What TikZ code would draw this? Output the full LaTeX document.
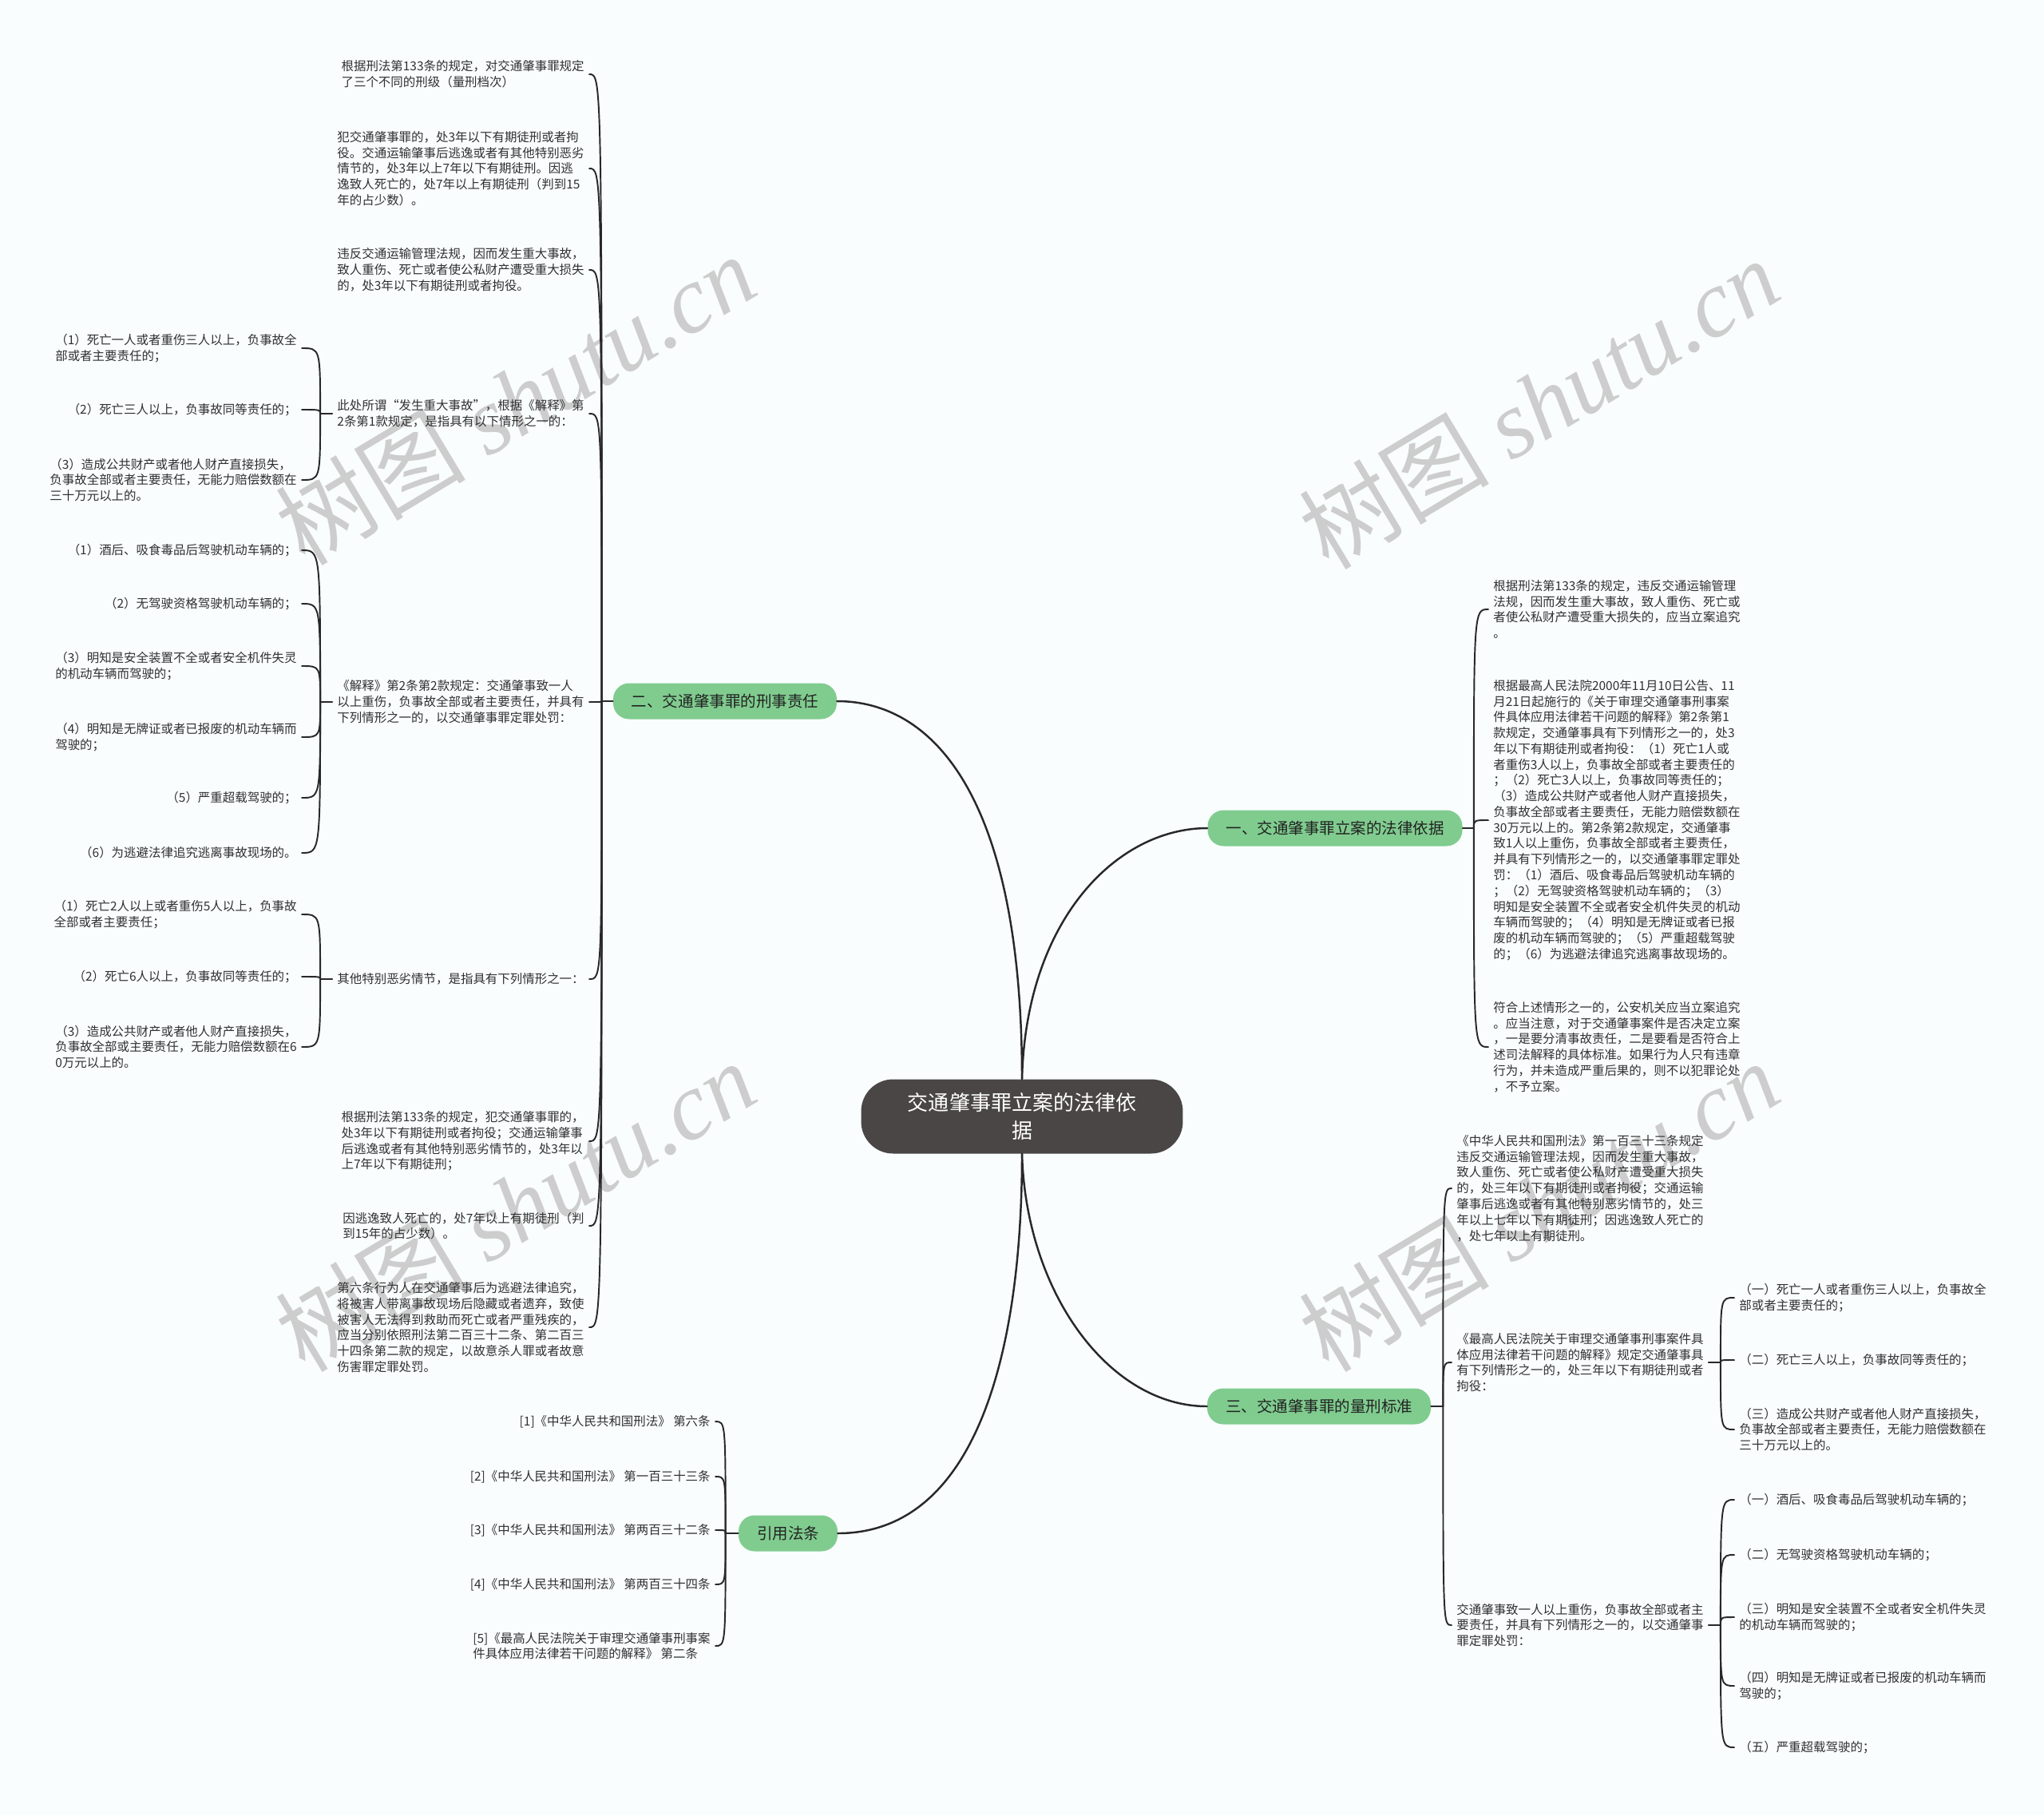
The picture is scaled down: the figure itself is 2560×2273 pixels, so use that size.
\documentclass[tikz,border=0pt]{standalone}
\usepackage{fontspec}
\setmainfont{Noto Sans CJK SC}
\newfontfamily\wmfont{Liberation Serif}
\definecolor{bgcol}{RGB}{249,253,254}
\definecolor{mapgreen}{RGB}{128,204,143}
\definecolor{rootgray}{RGB}{74,70,70}
\definecolor{linegray}{RGB}{40,40,40}
\definecolor{leafgray}{RGB}{48,48,48}
\definecolor{textdark}{RGB}{34,34,34}
\definecolor{wmgray}{RGB}{205,205,205}
\tikzset{
  leaf/.style = {font = \fontsize{8.8}{11.25}\selectfont, text = leafgray, align = left, inner xsep = 0.12cm, inner ysep = 0.04cm},
  leafL/.style = {leaf, anchor = east},
  leafR/.style = {leaf, anchor = west},
  branch/.style = {fill = mapgreen, rounded corners = 0.4cm, minimum height = 0.9cm, inner xsep = 0.46cm, font = \fontsize{11.1}{13}\selectfont, text = textdark},
  root/.style = {fill = rootgray, rounded corners = 0.8cm, minimum width = 8.06cm, minimum height = 1.86cm, align = center, text = white, font = \fontsize{14.8}{19.4}\selectfont},
  trunk/.style = {draw = linegray, line width = 1.4pt, line cap = round},
  twig/.style = {draw = linegray, line width = 1.1pt, line cap = round},
  wm/.style = {rotate = 31, text = wmgray, font = \fontsize{68}{76}\selectfont}
}
\begin{document}
\begin{tikzpicture}[x = 0.02cm, y = -0.02cm]
\useasboundingbox (0,0) rectangle (2560,2273);
\fill [bgcol] (0,0) rectangle (2560,2273);
\foreach \wx/\wy/\wn in {645/500/wm1, 1927/505/wm2, 645/1510/wm3, 1927/1510/wm4}
  \node [wm] (\wn) at (\wx,\wy) {树图 {\wmfont\itshape shutu.cn}};

\node [root] (root) at (1280,1398) {交通肇事罪立案的法律依\\据};
\node [branch] (b1) at (1672,1037) {一、交通肇事罪立案的法律依据};
\node [branch] (b2) at (908,878) {二、交通肇事罪的刑事责任};
\node [branch] (b3) at (1652,1761) {三、交通肇事罪的量刑标准};
\node [branch] (b4) at (987,1920) {引用法条};

\node [leafL] (c1) at (738,93) {根据刑法第133条的规定，对交通肇事罪规定\\了三个不同的刑级（量刑档次）};
\node [leafL] (c2) at (738,211) {犯交通肇事罪的，处3年以下有期徒刑或者拘\\役。交通运输肇事后逃逸或者有其他特别恶劣\\情节的，处3年以上7年以下有期徒刑。因逃\\逸致人死亡的，处7年以上有期徒刑（判到15\\年的占少数）。};
\node [leafL] (c3) at (738,338) {违反交通运输管理法规，因而发生重大事故，\\致人重伤、死亡或者使公私财产遭受重大损失\\的，处3年以下有期徒刑或者拘役。};
\node [leafL] (c4) at (738,518) {此处所谓“发生重大事故”，根据《解释》第\\2条第1款规定，是指具有以下情形之一的：};
\node [leafL] (c5) at (738,879) {《解释》第2条第2款规定：交通肇事致一人\\以上重伤，负事故全部或者主要责任，并具有\\下列情形之一的，以交通肇事罪定罪处罚：};
\node [leafL] (c6) at (738,1226) {其他特别恶劣情节，是指具有下列情形之一：};
\node [leafL] (c7) at (738,1429) {根据刑法第133条的规定，犯交通肇事罪的，\\处3年以下有期徒刑或者拘役；交通运输肇事\\后逃逸或者有其他特别恶劣情节的，处3年以\\上7年以下有期徒刑；};
\node [leafL] (c8) at (738,1535) {因逃逸致人死亡的，处7年以上有期徒刑（判\\到15年的占少数）。};
\node [leafL] (c9) at (738,1662) {第六条行为人在交通肇事后为逃避法律追究，\\将被害人带离事故现场后隐藏或者遗弃，致使\\被害人无法得到救助而死亡或者严重残疾的，\\应当分别依照刑法第二百三十二条、第二百三\\十四条第二款的规定，以故意杀人罪或者故意\\伤害罪定罪处罚。};

\node [leafL] (d1) at (378,436) {（1）死亡一人或者重伤三人以上，负事故全\\部或者主要责任的；};
\node [leafL] (d2) at (378,513) {（2）死亡三人以上，负事故同等责任的；};
\node [leafL] (d3) at (378,601) {（3）造成公共财产或者他人财产直接损失，\\负事故全部或者主要责任，无能力赔偿数额在\\三十万元以上的。};

\node [leafL] (e1) at (378,689) {（1）酒后、吸食毒品后驾驶机动车辆的；};
\node [leafL] (e2) at (378,756) {（2）无驾驶资格驾驶机动车辆的；};
\node [leafL] (e3) at (378,834) {（3）明知是安全装置不全或者安全机件失灵\\的机动车辆而驾驶的；};
\node [leafL] (e4) at (378,923) {（4）明知是无牌证或者已报废的机动车辆而\\驾驶的；};
\node [leafL] (e5) at (378,999) {（5）严重超载驾驶的；};
\node [leafL] (e6) at (378,1068) {（6）为逃避法律追究逃离事故现场的。};

\node [leafL] (f1) at (378,1145) {（1）死亡2人以上或者重伤5人以上，负事故\\全部或者主要责任；};
\node [leafL] (f2) at (378,1223) {（2）死亡6人以上，负事故同等责任的；};
\node [leafL] (f3) at (378,1311) {（3）造成公共财产或者他人财产直接损失，\\负事故全部或主要责任，无能力赔偿数额在6\\0万元以上的。};

\node [leafL] (r1) at (896,1780) {[1]《中华人民共和国刑法》 第六条};
\node [leafL] (r2) at (896,1849) {[2]《中华人民共和国刑法》 第一百三十三条};
\node [leafL] (r3) at (896,1916) {[3]《中华人民共和国刑法》 第两百三十二条};
\node [leafL] (r4) at (896,1984) {[4]《中华人民共和国刑法》 第两百三十四条};
\node [leafL] (r5) at (896,2061) {[5]《最高人民法院关于审理交通肇事刑事案\\件具体应用法律若干问题的解释》 第二条};

\node [leafR] (g1) at (1864,763) {根据刑法第133条的规定，违反交通运输管理\\法规，因而发生重大事故，致人重伤、死亡或\\者使公私财产遭受重大损失的，应当立案追究\\。};
\node [leafR] (g2) at (1864,1027) {根据最高人民法院2000年11月10日公告、11\\月21日起施行的《关于审理交通肇事刑事案\\件具体应用法律若干问题的解释》第2条第1\\款规定，交通肇事具有下列情形之一的，处3\\年以下有期徒刑或者拘役：（1）死亡1人或\\者重伤3人以上，负事故全部或者主要责任的\\；（2）死亡3人以上，负事故同等责任的；\\（3）造成公共财产或者他人财产直接损失，\\负事故全部或者主要责任，无能力赔偿数额在\\30万元以上的。第2条第2款规定，交通肇事\\致1人以上重伤，负事故全部或者主要责任，\\并具有下列情形之一的，以交通肇事罪定罪处\\罚：（1）酒后、吸食毒品后驾驶机动车辆的\\；（2）无驾驶资格驾驶机动车辆的；（3）\\明知是安全装置不全或者安全机件失灵的机动\\车辆而驾驶的；（4）明知是无牌证或者已报\\废的机动车辆而驾驶的；（5）严重超载驾驶\\的；（6）为逃避法律追究逃离事故现场的。};
\node [leafR] (g3) at (1864,1311) {符合上述情形之一的，公安机关应当立案追究\\。应当注意，对于交通肇事案件是否决定立案\\，一是要分清事故责任，二是要看是否符合上\\述司法解释的具体标准。如果行为人只有违章\\行为，并未造成严重后果的，则不以犯罪论处\\，不予立案。};

\node [leafR] (h1) at (1818,1488) {《中华人民共和国刑法》第一百三十三条规定\\违反交通运输管理法规，因而发生重大事故，\\致人重伤、死亡或者使公私财产遭受重大损失\\的，处三年以下有期徒刑或者拘役；交通运输\\肇事后逃逸或者有其他特别恶劣情节的，处三\\年以上七年以下有期徒刑；因逃逸致人死亡的\\，处七年以上有期徒刑。};
\node [leafR] (h2) at (1818,1706) {《最高人民法院关于审理交通肇事刑事案件具\\体应用法律若干问题的解释》规定交通肇事具\\有下列情形之一的，处三年以下有期徒刑或者\\拘役：};
\node [leafR] (h3) at (1818,2035) {交通肇事致一人以上重伤，负事故全部或者主\\要责任，并具有下列情形之一的，以交通肇事\\罪定罪处罚：};

\node [leafR] (i1) at (2172,1625) {（一）死亡一人或者重伤三人以上，负事故全\\部或者主要责任的；};
\node [leafR] (i2) at (2172,1703) {（二）死亡三人以上，负事故同等责任的；};
\node [leafR] (i3) at (2172,1790) {（三）造成公共财产或者他人财产直接损失，\\负事故全部或者主要责任，无能力赔偿数额在\\三十万元以上的。};

\node [leafR] (j1) at (2172,1878) {（一）酒后、吸食毒品后驾驶机动车辆的；};
\node [leafR] (j2) at (2172,1947) {（二）无驾驶资格驾驶机动车辆的；};
\node [leafR] (j3) at (2172,2025) {（三）明知是安全装置不全或者安全机件失灵\\的机动车辆而驾驶的；};
\node [leafR] (j4) at (2172,2111) {（四）明知是无牌证或者已报废的机动车辆而\\驾驶的；};
\node [leafR] (j5) at (2172,2188) {（五）严重超载驾驶的；};

\draw [trunk] (root.north) .. controls (1280,1000) and (1170,878) .. (b2.east);
\draw [trunk] (root.north) .. controls (1285,1150) and (1400,1037) .. (b1.west);
\draw [trunk] (root.south) .. controls (1285,1620) and (1390,1761) .. (b3.west);
\draw [trunk] (root.south) .. controls (1280,1700) and (1220,1920) .. (b4.east);

\draw [twig] (b2.west) -- ++(-14,0) coordinate (b2s);
\foreach \k in {c1,c2,c3,c4,c5,c6,c7,c8,c9}
  \draw [twig] (b2s) .. controls (b2s |- \k) .. (\k.east);
\draw [twig] (c4.west) -- ++(-15,0) coordinate (c4s);
\foreach \k in {d1,d2,d3}
  \draw [twig] (c4s) .. controls (c4s |- \k) .. (\k.east);
\draw [twig] (c5.west) -- ++(-15,0) coordinate (c5s);
\foreach \k in {e1,e2,e3,e4,e5,e6}
  \draw [twig] (c5s) .. controls (c5s |- \k) .. (\k.east);
\draw [twig] (c6.west) -- ++(-15,0) coordinate (c6s);
\foreach \k in {f1,f2,f3}
  \draw [twig] (c6s) .. controls (c6s |- \k) .. (\k.east);
\draw [twig] (b4.west) -- ++(-16,0) coordinate (b4s);
\foreach \k in {r1,r2,r3,r4,r5}
  \draw [twig] (b4s) .. controls (b4s |- \k) .. (\k.east);

\draw [twig] (b1.east) -- ++(14,0) coordinate (b1s);
\foreach \k in {g1,g2,g3}
  \draw [twig] (b1s) .. controls (b1s |- \k) .. (\k.west);
\draw [twig] (b3.east) -- ++(15,0) coordinate (b3s);
\foreach \k in {h1,h2,h3}
  \draw [twig] (b3s) .. controls (b3s |- \k) .. (\k.west);
\draw [twig] (h2.east) -- ++(15,0) coordinate (h2s);
\foreach \k in {i1,i2,i3}
  \draw [twig] (h2s) .. controls (h2s |- \k) .. (\k.west);
\draw [twig] (h3.east) -- ++(15,0) coordinate (h3s);
\foreach \k in {j1,j2,j3,j4,j5}
  \draw [twig] (h3s) .. controls (h3s |- \k) .. (\k.west);
\end{tikzpicture}
\end{document}
